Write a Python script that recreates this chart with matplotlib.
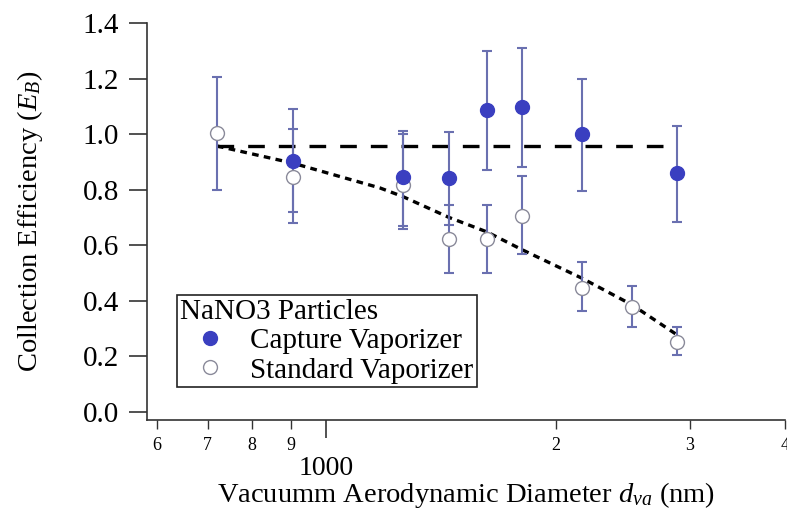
import matplotlib
matplotlib.use("Agg")
import matplotlib.pyplot as plt
import matplotlib.ticker as mticker
import numpy as np

plt.rcParams['font.family'] = ['Liberation Serif', 'DejaVu Serif']
plt.rcParams['mathtext.fontset'] = 'custom'
plt.rcParams['mathtext.rm'] = 'Liberation Serif'
plt.rcParams['mathtext.it'] = 'Liberation Serif:italic'

# capture vaporizer (filled)
cv_d   = [906, 1261, 1449, 1624, 1809, 2168, 2884]
cv_eb  = [0.903, 0.846, 0.840, 1.087, 1.097, 1.000, 0.860]
cv_hi  = [1.090, 1.011, 1.008, 1.300, 1.310, 1.198, 1.030]
cv_lo  = [0.720, 0.669, 0.673, 0.871, 0.882, 0.795, 0.684]

# standard vaporizer (open)
sv_d   = [720, 906, 1261, 1449, 1624, 1809, 2168, 2518, 2884]
sv_eb  = [1.004, 0.846, 0.817, 0.623, 0.623, 0.705, 0.446, 0.378, 0.252]
sv_hi  = [1.206, 1.020, 1.000, 0.745, 0.745, 0.849, 0.540, 0.453, 0.306]
sv_lo  = [0.800, 0.680, 0.658, 0.500, 0.500, 0.569, 0.363, 0.306, 0.205]

# fit lines
cv_fit_d  = [720, 2884]
cv_fit_eb = [0.957, 0.957]
sv_fit_d  = [720, 906, 1177, 1261, 1449, 1624, 1809, 2168, 2518, 2884]
sv_fit_eb = [0.957, 0.895, 0.806, 0.775, 0.700, 0.648, 0.583, 0.480, 0.385, 0.277]

blue = '#3a3fc0'
ebar = '#6a70b0'

fig = plt.figure(figsize=(7.87, 5.11), dpi=100)
ax = fig.add_axes([0.1868, 0.178, 0.8112, 0.777])

ax.plot(cv_fit_d, cv_fit_eb, color='black', lw=2.4, dashes=(5.0, 4.2), zorder=2)
ax.plot(sv_fit_d, sv_fit_eb, color='black', lw=2.4, dashes=(2.0, 1.6), zorder=2)

ax.errorbar(sv_d, sv_eb,
            yerr=[np.subtract(sv_eb, sv_lo), np.subtract(sv_hi, sv_eb)],
            fmt='none', ecolor=ebar, elinewidth=1.5, capsize=3.6, capthick=1.5, zorder=3)
ax.errorbar(cv_d, cv_eb,
            yerr=[np.subtract(cv_eb, cv_lo), np.subtract(cv_hi, cv_eb)],
            fmt='none', ecolor=ebar, elinewidth=1.5, capsize=3.6, capthick=1.5, zorder=3)

ax.plot(sv_d, sv_eb, 'o', ms=10, mfc='white', mec='#8a8a9a', mew=1.0,
        ls='none', zorder=4, label='Standard Vaporizer')
ax.plot(cv_d, cv_eb, 'o', ms=10, mfc=blue, mec=blue, mew=1.0,
        ls='none', zorder=5, label='Capture Vaporizer')

ax.set_xscale('log')
ax.set_xlim(583, 4000)
ax.set_ylim(-0.03, 1.4)

ax.xaxis.set_major_locator(mticker.FixedLocator([1000]))
ax.xaxis.set_major_formatter(mticker.FixedFormatter(['1000']))
minor_x = [600, 700, 800, 900, 2000, 3000, 4000]
ax.xaxis.set_minor_locator(mticker.FixedLocator(minor_x))
ax.xaxis.set_minor_formatter(mticker.FixedFormatter(['6', '7', '8', '9', '2', '3', '4']))

ax.set_yticks(np.arange(0, 1.41, 0.2))
ax.yaxis.set_major_formatter(mticker.FormatStrFormatter('%.1f'))

ax.spines['top'].set_visible(False)
ax.spines['right'].set_visible(False)
for s in ('left', 'bottom'):
    ax.spines[s].set_color('#333333')
    ax.spines[s].set_linewidth(1.2)

ax.tick_params(axis='y', which='major', direction='out', length=13, width=1.2,
               color='#333333', labelsize=21, pad=7)
ax.tick_params(axis='x', which='major', direction='out', length=13, width=1.2,
               color='#333333', labelsize=20, pad=13)
ax.tick_params(axis='x', which='minor', direction='out', length=6.5, width=1.0,
               color='#333333', labelsize=13, pad=6)

ax.set_ylabel(r'Collection Efficiency ($E_B$)', fontsize=20.5, labelpad=27)
ax.set_xlabel(r'Vacuumm Aerodynamic Diameter $d_{va}$ (nm)', fontsize=20.5, labelpad=-1)

h, l = ax.get_legend_handles_labels()
leg = ax.legend(h[::-1], l[::-1], title='NaNO3 Particles', fontsize=21,
                title_fontsize=21, loc='lower left',
                bbox_to_anchor=(177 / 787, 1 - 387 / 511),
                bbox_transform=fig.transFigure,
                frameon=True, fancybox=False, framealpha=1, edgecolor='#222222',
                borderpad=0.12, labelspacing=0.1, handlelength=2.0,
                handletextpad=0.4, borderaxespad=0, alignment='left')
leg.get_frame().set_linewidth(1.2)

fig.savefig('out.png', dpi=100)
